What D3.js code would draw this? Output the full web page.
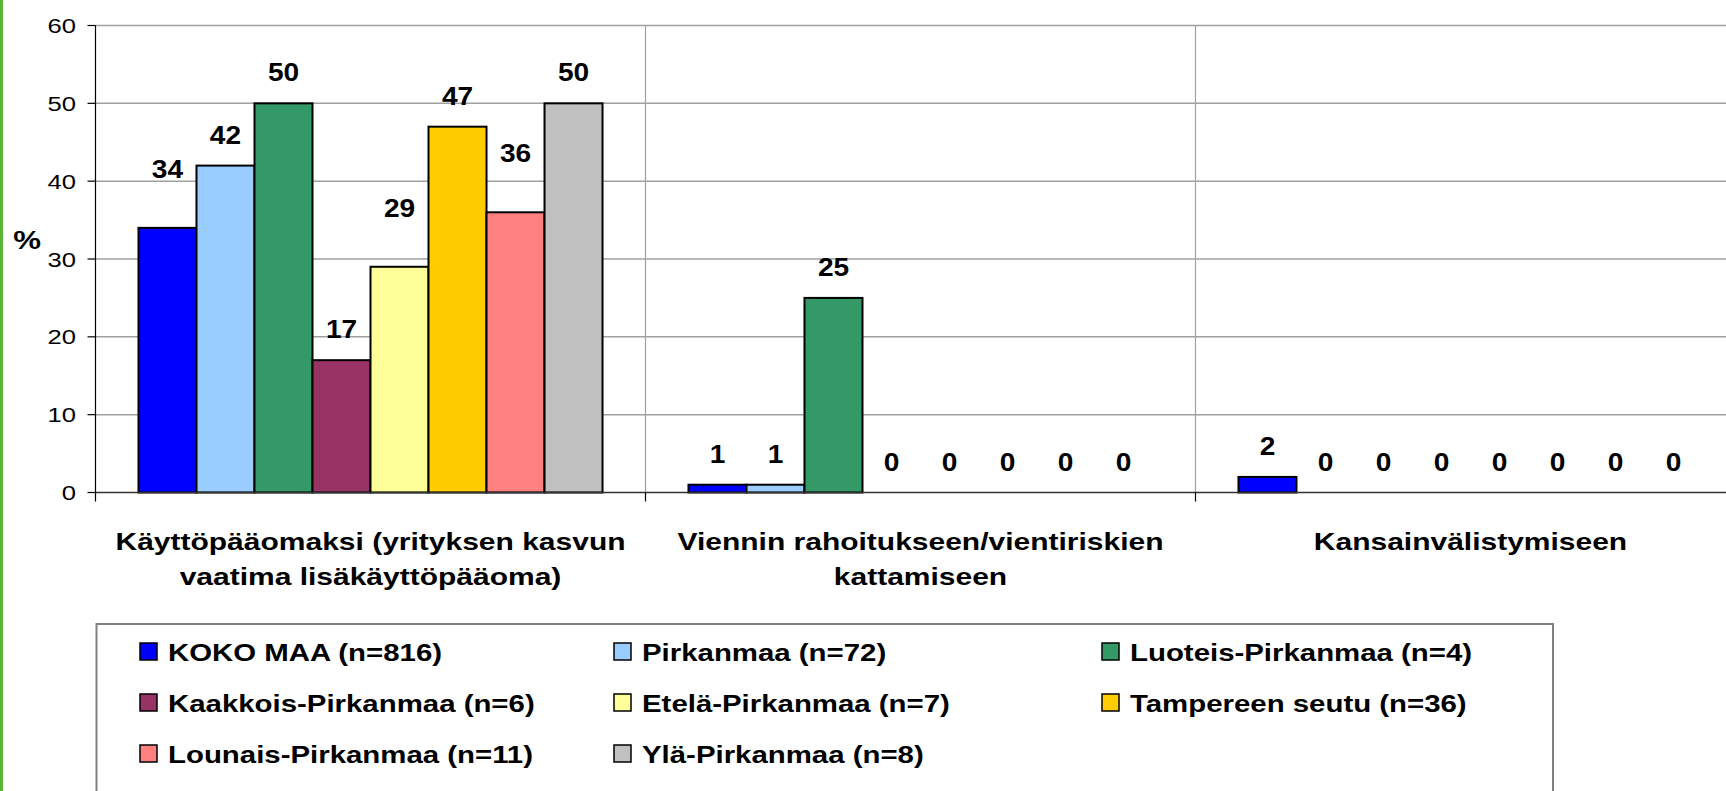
<!DOCTYPE html>
<html>
<head>
<meta charset="utf-8">
<script src="https://cdn.jsdelivr.net/npm/d3@7"></script>
<style>
  html, body { margin: 0; padding: 0; background: #fff; overflow: hidden; }
  svg { display: block; font-family: "Liberation Sans", Arial, sans-serif; }
</style>
</head>
<body>
<svg id="chart" width="1726" height="791"></svg>
<script>
// categories (two-line labels) and series
const categories = ['kaytto', 'vienti', 'kansainv'];
const categoryLabels = [
  ['Käyttöpääomaksi (yrityksen kasvun', 'vaatima lisäkäyttöpääoma)'],
  ['Viennin rahoitukseen/vientiriskien', 'kattamiseen'],
  ['Kansainvälistymiseen']
];
const seriesNames = [
  'KOKO MAA (n=816)', 'Pirkanmaa (n=72)', 'Luoteis-Pirkanmaa (n=4)',
  'Kaakkois-Pirkanmaa (n=6)', 'Etelä-Pirkanmaa (n=7)', 'Tampereen seutu (n=36)',
  'Lounais-Pirkanmaa (n=11)', 'Ylä-Pirkanmaa (n=8)'
];
const seriesColors = ['#0000ff', '#99ccff', '#339966', '#993366', '#ffff99', '#ffcc00', '#ff8080', '#c0c0c0'];
// values[category][series], %
const values = [
  [34, 42, 50, 17, 29, 47, 36, 50],
  [1, 1, 25, 0, 0, 0, 0, 0],
  [2, 0, 0, 0, 0, 0, 0, 0]
];
const yTicks = [0, 10, 20, 30, 40, 50, 60];

// labels that were dragged higher in the original
const raisedLabels = ['0-0', '0-4', '0-6'];

const svg = d3.select('#chart');
const plotLeft = 95.5, plotTop = 25.5, plotBottom = 492.5, catWidth = 550;

const y = d3.scaleLinear().domain([0, 60]).range([plotBottom, plotTop]);
const x0 = d3.scaleBand().domain(categories)
  .range([plotLeft, plotLeft + catWidth * categories.length]);
const x1 = d3.scaleBand().domain(d3.range(seriesNames.length))
  .range([0, catWidth]).paddingOuter(0.741);

// horizontally stretched text, like the original picture
const stretch = (sel, x, yy, sx) => sel.attr('transform', (d, i) =>
  `translate(${typeof x === 'function' ? x(d, i) : x},${typeof yy === 'function' ? yy(d, i) : yy}) scale(${sx},1)`);

// green strip on the left edge
svg.append('rect').attr('x', 0).attr('y', 0).attr('width', 3).attr('height', 791).attr('fill', '#5cb434');

// horizontal gridlines
svg.append('g').selectAll('line').data(yTicks.slice(1)).join('line')
  .attr('x1', plotLeft).attr('x2', 1726)
  .attr('y1', d => y(d)).attr('y2', d => y(d))
  .attr('stroke', '#a0a0a0').attr('stroke-width', 1.5);

// vertical separators between categories
svg.append('g').selectAll('line').data(categories.slice(1)).join('line')
  .attr('x1', d => x0(d)).attr('x2', d => x0(d))
  .attr('y1', plotTop).attr('y2', plotBottom)
  .attr('stroke', '#a0a0a0').attr('stroke-width', 1.2);

// bars
const groups = svg.append('g').selectAll('g').data(values).join('g')
  .attr('transform', (d, i) => `translate(${x0(categories[i])},0)`);

groups.selectAll('rect').data(d => d).join('rect')
  .attr('x', (d, i) => x1(i))
  .attr('width', x1.bandwidth())
  .attr('y', d => y(d))
  .attr('height', d => plotBottom - y(d))
  .attr('fill', (d, i) => seriesColors[i])
  .attr('stroke', d => d > 0 ? '#000' : 'none')
  .attr('stroke-width', 2);

// data labels
groups.each(function (row, ci) {
  d3.select(this).selectAll('text').data(row).join('text')
    .call(stretch, (d, i) => x1(i) + x1.bandwidth() / 2,
      (d, i) => y(d) - (raisedLabels.includes(`${ci}-${i}`) ? 50 : 22), 1.08)
    .attr('text-anchor', 'middle')
    .attr('font-size', 26).attr('font-weight', 'bold').attr('fill', '#000')
    .text(d => d);
});

// y axis
const yAxis = svg.append('g');
yAxis.append('line').attr('x1', plotLeft).attr('x2', plotLeft)
  .attr('y1', plotTop).attr('y2', plotBottom + 9).attr('stroke', '#000').attr('stroke-width', 1.2);
yAxis.selectAll('line.tick').data(yTicks).join('line').attr('class', 'tick')
  .attr('x1', plotLeft - 8).attr('x2', plotLeft)
  .attr('y1', d => y(d)).attr('y2', d => y(d))
  .attr('stroke', '#000').attr('stroke-width', 1.2);
yAxis.selectAll('text').data(yTicks).join('text')
  .call(stretch, 76, d => y(d) + 7.5, 1.22)
  .attr('text-anchor', 'end').attr('font-size', 21).attr('fill', '#000')
  .text(d => d);
svg.append('text').call(stretch, 27, 249, 1.2)
  .attr('text-anchor', 'middle').attr('font-size', 26).attr('font-weight', 'bold')
  .text('%');

// x axis
svg.append('line').attr('x1', plotLeft).attr('x2', 1726)
  .attr('y1', plotBottom).attr('y2', plotBottom).attr('stroke', '#333').attr('stroke-width', 1.5);
svg.append('g').selectAll('line').data(categories.slice(1)).join('line')
  .attr('x1', d => x0(d)).attr('x2', d => x0(d))
  .attr('y1', plotBottom).attr('y2', plotBottom + 9).attr('stroke', '#000').attr('stroke-width', 1.2);

const catText = svg.append('g').selectAll('g').data(categoryLabels).join('g');
catText.each(function (lines, ci) {
  d3.select(this).selectAll('text').data(lines).join('text')
    .call(stretch, x0(categories[ci]) + catWidth / 2, (d, i) => 550 + i * 35, 1.25)
    .attr('text-anchor', 'middle').attr('font-size', 24).attr('font-weight', 'bold')
    .text(d => d);
});

// legend
const legend = svg.append('g');
legend.append('rect').attr('x', 96.5).attr('y', 624).attr('width', 1456.5).attr('height', 200)
  .attr('fill', '#fff').attr('stroke', '#808080').attr('stroke-width', 2);
const legendCols = [140, 614, 1102], legendRows = [652, 703, 754];
const items = legend.selectAll('g.item').data(seriesNames).join('g').attr('class', 'item')
  .attr('transform', (d, i) => `translate(${legendCols[i % 3]},${legendRows[Math.floor(i / 3)]})`);
items.append('rect').attr('x', 0).attr('y', -9).attr('width', 17).attr('height', 17)
  .attr('fill', (d, i) => seriesColors[i]).attr('stroke', '#000').attr('stroke-width', 1.5);
items.append('text').call(stretch, 28, 9, 1.2)
  .attr('font-size', 24.5).attr('font-weight', 'bold')
  .text(d => d);
</script>
</body>
</html>
